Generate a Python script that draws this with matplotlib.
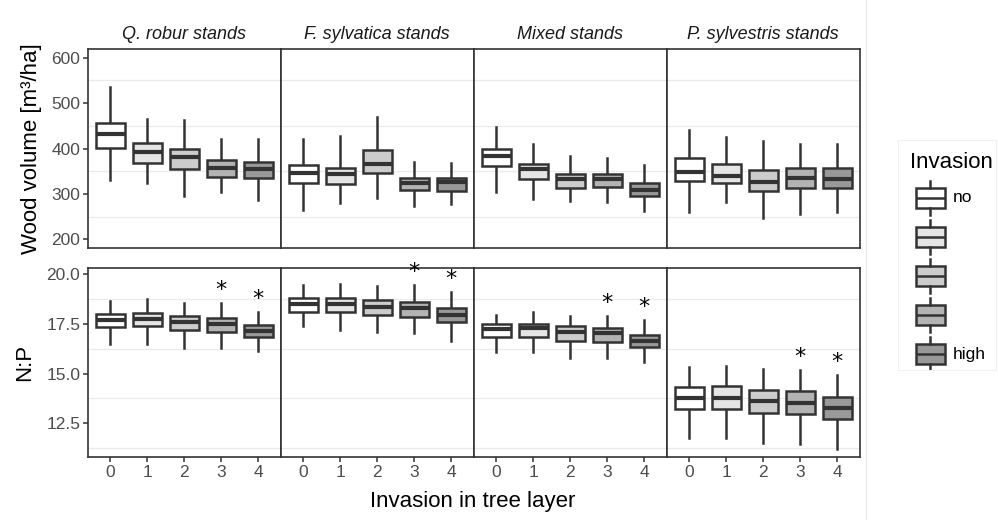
import matplotlib.pyplot as plt
from matplotlib.lines import Line2D

plt.rcParams["font.family"] = ["Liberation Sans", "DejaVu Sans"]

stands = ["Q. robur stands", "F. sylvatica stands", "Mixed stands", "P. sylvestris stands"]
levels = [0, 1, 2, 3, 4]
fills = ["#FFFFFF", "#E5E5E5", "#CCCCCC", "#B3B3B3", "#999999"]
legend_labels = ["no", "", "", "", "high"]

# wood volume [m3/ha], one row per stand, one value per invasion level
wood_whislo = [[331, 325, 295, 304, 287],
               [265, 279, 290, 273, 278],
               [305, 289, 284, 283, 262],
               [261, 283, 248, 255, 260]]
wood_q1 = [[402, 369, 355, 338, 334],
           [323, 322, 345, 309, 307],
           [361, 333, 312, 316, 295],
           [328, 324, 306, 313, 313]]
wood_med = [[432, 393, 381, 356, 354],
            [345, 343, 366, 325, 327],
            [384, 355, 333, 332, 309],
            [349, 339, 326, 334, 333]]
wood_q3 = [[457, 413, 399, 374, 371],
           [364, 358, 396, 336, 334],
           [399, 366, 343, 344, 324],
           [378, 366, 353, 358, 357]]
wood_whishi = [[535, 465, 462, 420, 422],
               [422, 428, 469, 370, 368],
               [447, 411, 383, 378, 364],
               [440, 425, 417, 409, 411]]

# N:P ratio
np_whislo = [[16.48, 16.48, 16.31, 16.28, 16.14],
             [17.42, 17.20, 17.11, 17.03, 16.64],
             [16.11, 16.07, 15.81, 15.77, 15.57],
             [11.78, 11.76, 11.53, 11.46, 11.21]]
np_q1 = [[17.35, 17.40, 17.18, 17.11, 16.86],
         [18.09, 18.12, 17.95, 17.85, 17.58],
         [16.83, 16.86, 16.66, 16.61, 16.33],
         [13.22, 13.22, 13.04, 12.97, 12.70]]
np_med = [[17.70, 17.75, 17.60, 17.50, 17.15],
          [18.50, 18.50, 18.35, 18.30, 17.95],
          [17.25, 17.30, 17.12, 17.05, 16.64],
          [13.76, 13.79, 13.64, 13.54, 13.29]]
np_q3 = [[17.99, 18.04, 17.89, 17.80, 17.45],
         [18.79, 18.83, 18.71, 18.62, 18.29],
         [17.48, 17.52, 17.38, 17.28, 16.95],
         [14.33, 14.38, 14.19, 14.13, 13.84]]
np_whishi = [[18.66, 18.74, 18.57, 18.57, 18.09],
             [19.46, 19.53, 19.41, 19.46, 19.09],
             [17.95, 18.09, 17.92, 17.90, 17.68],
             [15.34, 15.37, 15.23, 15.18, 14.92]]
np_signif = [3, 4]  # levels marked with "*" in every stand

W, H = 998, 520
fig = plt.figure(figsize=(W / 100, H / 100), dpi=100)

edge = "#333333"
grid_c = "#EBEBEB"
tick_c = "#4D4D4D"


def px_axes(x0, y0, x1, y1):
    return fig.add_axes([x0 / W, 1 - y1 / H, (x1 - x0) / W, (y1 - y0) / H])


def draw_boxes(ax, lo, q1, med, q3, hi):
    stats = []
    for i in range(len(levels)):
        stats.append(dict(whislo=lo[i], q1=q1[i], med=med[i], q3=q3[i],
                          whishi=hi[i], fliers=[]))
    bp = ax.bxp(stats, positions=levels, widths=0.78, patch_artist=True,
                showcaps=False, showfliers=False,
                boxprops=dict(edgecolor=edge, linewidth=1.8),
                whiskerprops=dict(color=edge, linewidth=1.8),
                medianprops=dict(color=edge, linewidth=3.0, solid_capstyle="butt"))
    for patch, c in zip(bp["boxes"], fills):
        patch.set_facecolor(c)
    for ln in bp["whiskers"]:
        ln.set_zorder(1)
    return bp


def style(ax, ylim, minor, majors, majlabels, show_x):
    ax.set_xlim(-0.6, 4.6)
    ax.set_ylim(*ylim)
    for y in minor:
        ax.axhline(y, color=grid_c, lw=0.9, zorder=0)
    ax.set_yticks(majors)
    ax.set_yticklabels(majlabels)
    ax.set_xticks(levels)
    ax.set_xticklabels([str(v) for v in levels])
    ax.tick_params(axis="both", colors="#333333", labelcolor=tick_c,
                   labelsize=12.5, length=3.5, width=1.1, pad=2)
    if not show_x:
        ax.tick_params(axis="x", bottom=False, labelbottom=False)
    for s in ax.spines.values():
        s.set_color(edge)
        s.set_linewidth(1.2)


lefts = [88, 281, 474, 667]
pw = 192.5
for k, name in enumerate(stands):
    x0 = lefts[k]
    ax = px_axes(x0, 49, x0 + pw, 248)
    draw_boxes(ax, wood_whislo[k], wood_q1[k], wood_med[k], wood_q3[k], wood_whishi[k])
    style(ax, (181, 619), [250, 350, 450, 550], [200, 300, 400, 500, 600],
          ["200", "300", "400", "500", "600"], False)
    ax.set_title(name, style="italic", fontsize=13, color="#1A1A1A", pad=7)
    if k > 0:
        ax.tick_params(axis="y", left=False, labelleft=False)
    else:
        ax.set_ylabel("Wood volume [m³/ha]", fontsize=16, labelpad=7)

    ax2 = px_axes(x0, 268, x0 + pw, 457)
    draw_boxes(ax2, np_whislo[k], np_q1[k], np_med[k], np_q3[k], np_whishi[k])
    style(ax2, (10.8, 20.32), [11.25, 13.75, 16.25, 18.75], [12.5, 15.0, 17.5, 20.0],
          ["12.5", "15.0", "17.5", "20.0"], True)
    for lv in np_signif:
        ax2.annotate("*", (lv, np_whishi[k][lv]), xytext=(0, 5),
                     textcoords="offset points", ha="center", va="baseline",
                     fontsize=16, family="DejaVu Sans", color="black")
    if k > 0:
        ax2.tick_params(axis="y", left=False, labelleft=False)
    else:
        ax2.set_ylabel("N:P", fontsize=16, labelpad=8)

fig.text(473 / W, 1 - 502 / H, "Invasion in tree layer", ha="center", va="center",
         fontsize=16)

# faint separator line left of legend
fig.add_artist(Line2D([866 / W, 866 / W], [0, 1], color=grid_c, lw=1))

# legend drawn as small boxplots
lax = px_axes(898, 140, 996, 370)
for s in lax.spines.values():
    s.set_color("#F0F0F0")
    s.set_linewidth(0.8)
lax.text(12, 22, "Invasion", fontsize=16, va="center", ha="left")
key_stats = []
for i in range(len(fills)):
    c = 58 + i * 39
    key_stats.append(dict(whislo=c + 17, q1=c + 10, med=c, q3=c - 10, whishi=c - 17,
                          fliers=[]))
lbp = lax.bxp(key_stats, positions=[32] * len(fills), widths=29, patch_artist=True,
              showcaps=False, showfliers=False,
              boxprops=dict(edgecolor=edge, linewidth=1.8),
              whiskerprops=dict(color=edge, linewidth=1.8),
              medianprops=dict(color=edge, linewidth=1.8))
for patch, c in zip(lbp["boxes"], fills):
    patch.set_facecolor(c)
lax.set_xlim(0, 98)
lax.set_ylim(230, 0)
lax.set_xticks([])
lax.set_yticks([])
for i, lab in enumerate(legend_labels):
    if lab:
        lax.text(55, 58 + i * 39, lab, fontsize=12.5, va="center", ha="left")

fig.savefig("out.png", dpi=100)
